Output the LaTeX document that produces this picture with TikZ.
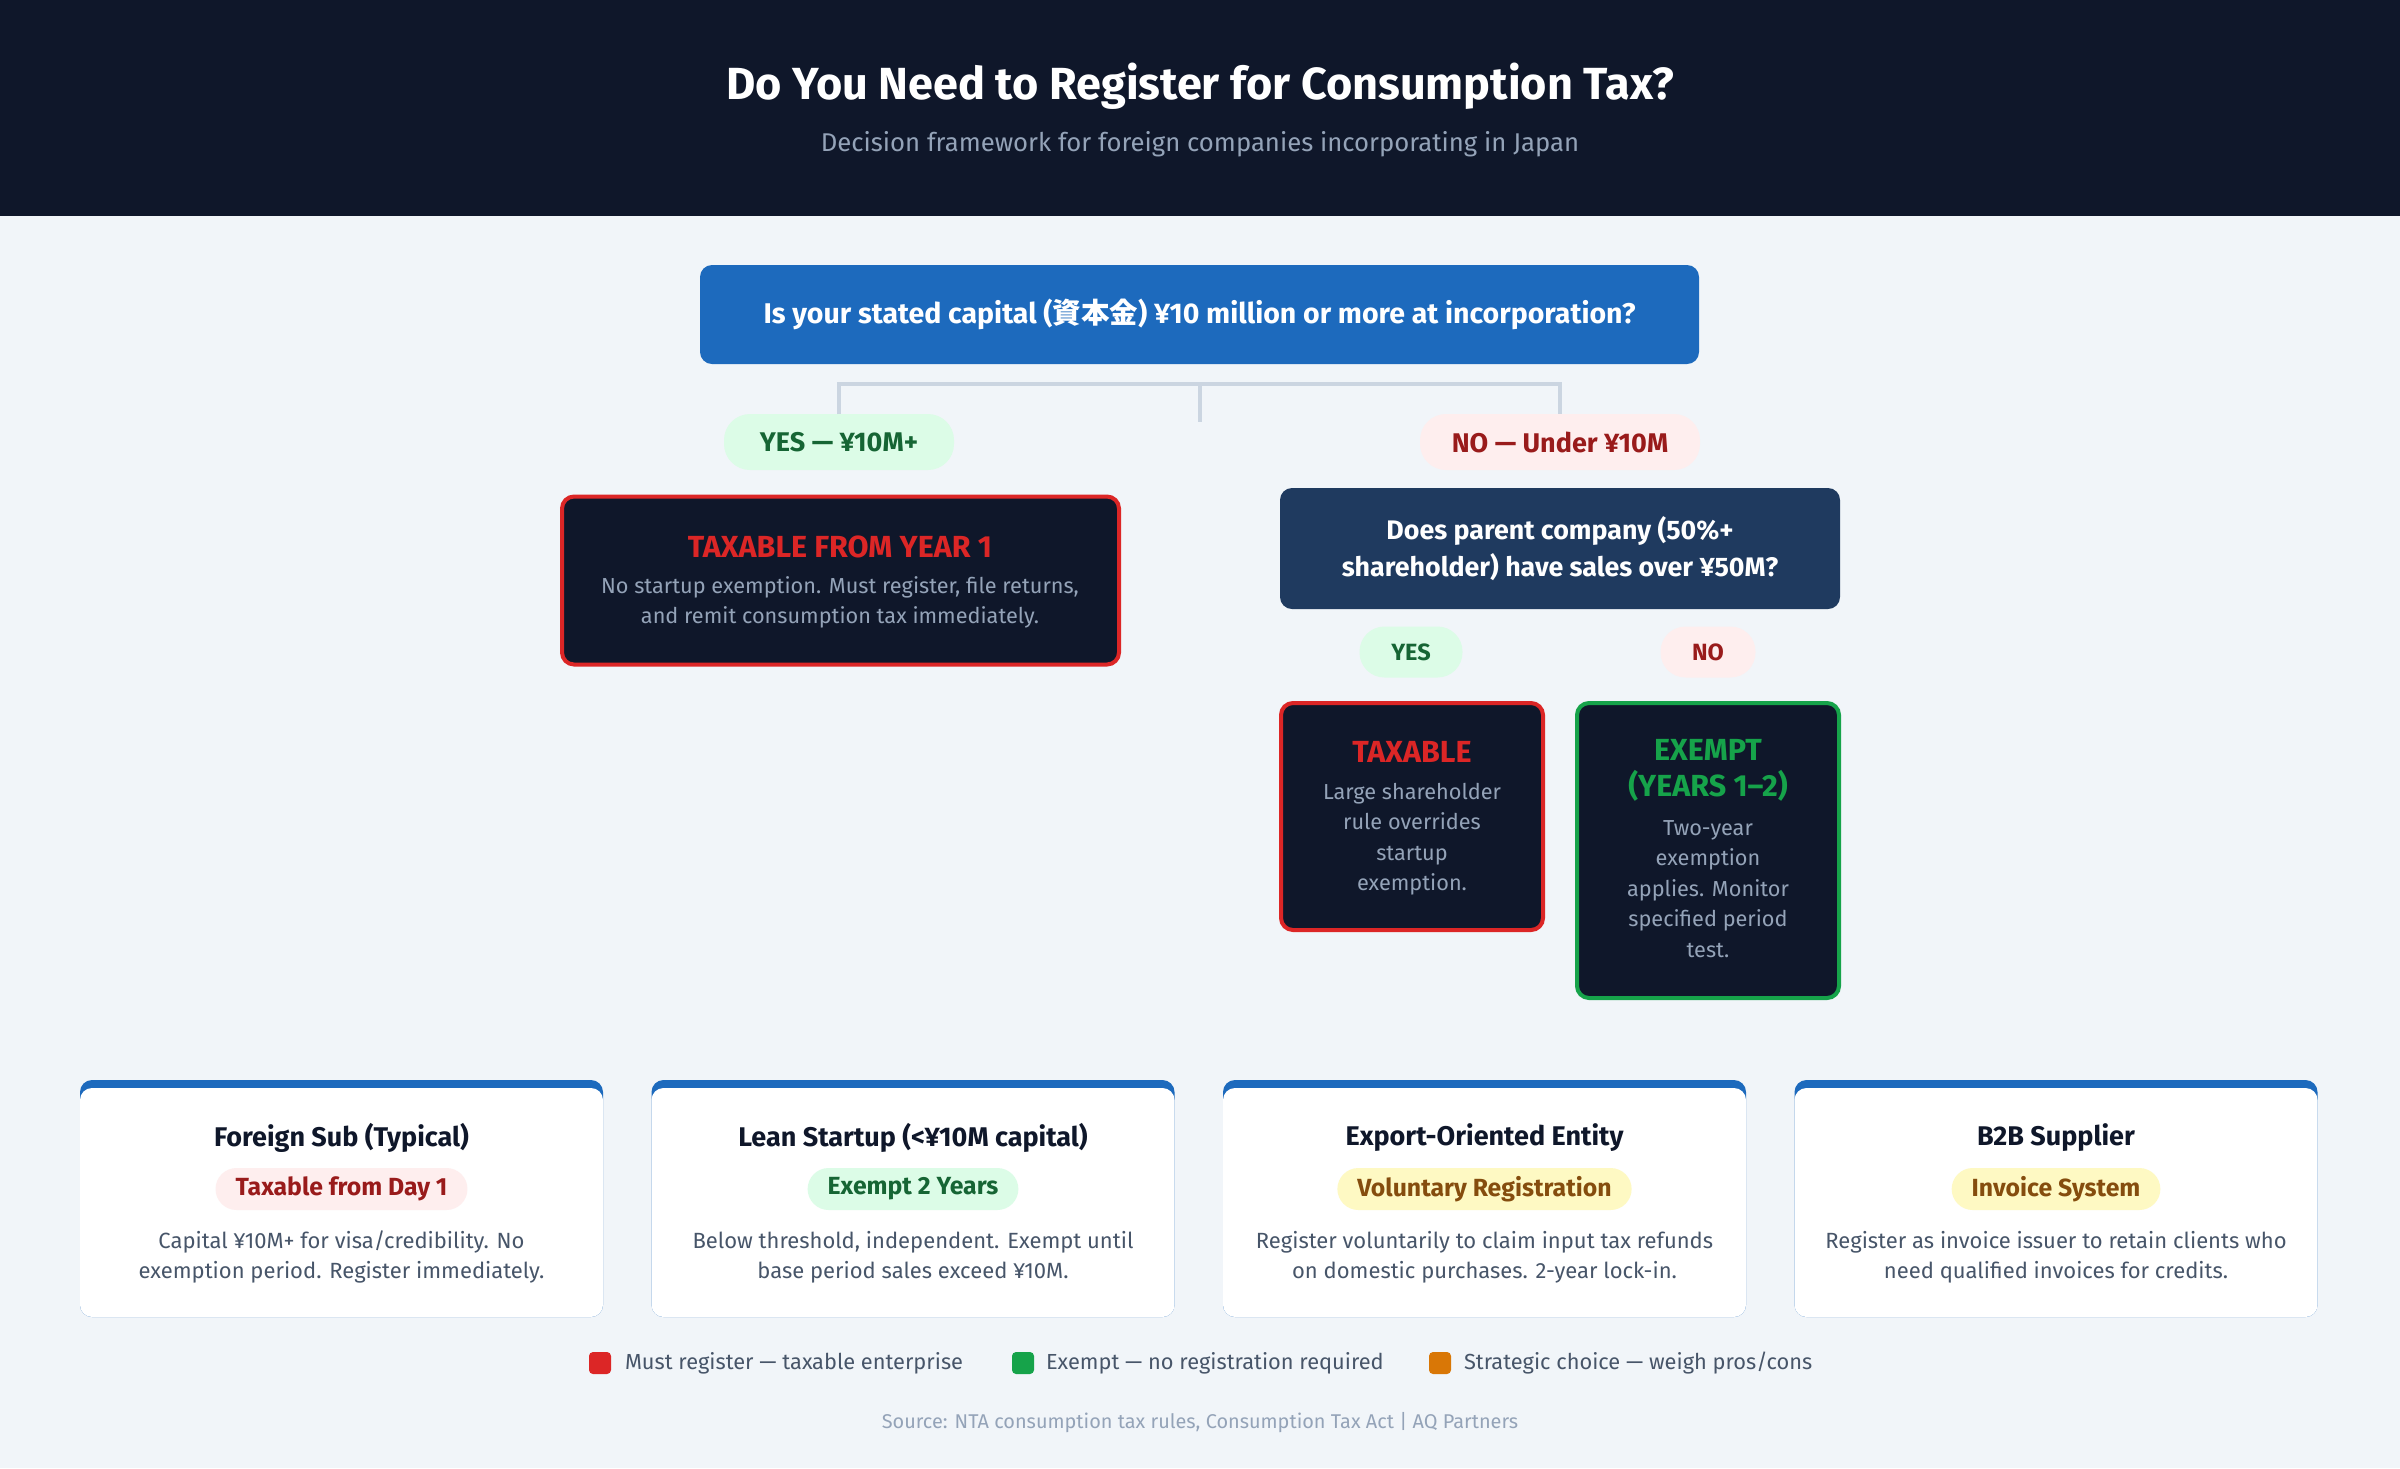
\documentclass[tikz,border=0pt]{standalone}
\usepackage{fontspec}
\setmainfont{Fira Sans}
\newfontfamily\cjk{Noto Sans CJK JP}
\definecolor{hdr}{RGB}{15,23,42}
\definecolor{bgc}{RGB}{241,245,249}
\definecolor{qblue}{RGB}{29,106,189}
\definecolor{navy}{RGB}{31,58,95}
\definecolor{tred}{RGB}{220,38,38}
\definecolor{tgreen}{RGB}{22,163,74}
\definecolor{slatefour}{RGB}{148,163,184}
\definecolor{slatesix}{RGB}{71,85,105}
\definecolor{gfill}{RGB}{220,252,231}
\definecolor{gtext}{RGB}{22,101,52}
\definecolor{rfill}{RGB}{254,238,238}
\definecolor{rtext}{RGB}{153,27,27}
\definecolor{yfill}{RGB}{254,249,195}
\definecolor{ytext}{RGB}{133,77,14}
\definecolor{orng}{RGB}{217,119,6}
\definecolor{linec}{RGB}{203,213,225}
\tikzset{
  base/.style={inner sep=0pt, outer sep=0pt},
  qbox/.style={base, rounded corners=12pt, text=white, align=center},
  pill/.style={base, inner xsep=20pt, rounded corners=26pt, font=\fontsize{27}{31}\selectfont\bfseries},
  spill/.style={base, rounded corners=25pt, font=\fontsize{23.5}{27}\selectfont\bfseries},
  outbox/.style={base, rounded corners=12pt, fill=hdr, line width=4pt},
  otitle/.style={base, align=center, font=\fontsize{30.5}{36}\selectfont\bfseries},
  obody/.style={base, align=center, text=slatefour, font=\fontsize{21.7}{30.5}\selectfont},
  conn/.style={draw=linec, line width=3.5pt},
  cardbg/.style={base, rounded corners=12pt, fill=qblue, minimum width=523pt, minimum height=237pt},
  cardfg/.style={base, rounded corners=12pt, fill=white, minimum width=523pt, minimum height=229pt},
  ctitle/.style={base, text=hdr, font=\fontsize{27}{31}\selectfont\bfseries},
  badge/.style={base, inner xsep=20pt, minimum height=42pt, rounded corners=21pt, font=\fontsize{24.8}{28}\selectfont\bfseries},
  cbody/.style={base, align=center, text=slatesix, font=\fontsize{22}{30}\selectfont},
  legsq/.style={base, rounded corners=4pt, minimum width=22pt, minimum height=22pt},
  legtxt/.style={base, anchor=west, text=slatesix, font=\fontsize{21.8}{26}\selectfont}
}
\begin{document}
\begin{tikzpicture}[x=1pt,y=-1pt]
\useasboundingbox (0,0) rectangle (2400,1468);
\fill[bgc] (0,0) rectangle (2400,1468);
\fill[hdr] (0,0) rectangle (2400,216);
\node[base,text=white,font=\fontsize{45}{52}\selectfont\bfseries] (title) at (1200,86) {Do You Need to Register for Consumption Tax?};
\node[base,text=slatefour,font=\fontsize{25.7}{30}\selectfont] (subtitle) at (1200,144) {Decision framework for foreign companies incorporating in Japan};

% question 1
\node[qbox, fill=qblue, minimum width=999pt, minimum height=99pt, font=\fontsize{28.5}{33}\selectfont\bfseries] (q1) at (1199.5,314.5) {Is your stated capital ({\cjk\bfseries 資本金}) ¥10 million or more at incorporation?};

% branch pills
\node[pill, fill=gfill, text=gtext, minimum width=230pt, minimum height=56pt] (yes1) at (839,442) {YES — ¥10M+};
\node[pill, fill=rfill, text=rtext, minimum width=280pt, minimum height=56pt] (no1) at (1560,442) {NO — Under ¥10M};

\coordinate (hub) at (1200,384);
\coordinate (stub) at (1200,422);
\draw[conn] (yes1.north) |- (hub) -| (no1.north);
\draw[conn] (hub) -- (stub);

% outcome: taxable from year 1
\node[outbox, draw=tred, minimum width=557pt, minimum height=168pt] (tax1) at (840.5,580.5) {};
\node[otitle, text=tred] (tax1t) at (840,547) {TAXABLE FROM YEAR 1};
\node[obody] (tax1b) at (840,602.5) {No startup exemption. Must register, file returns,\\and remit consumption tax immediately.};

% question 2
\node[qbox, fill=navy, minimum width=560pt, minimum height=121pt, font=\fontsize{26.8}{37}\selectfont\bfseries] (q2) at (1560,548.5) {Does parent company (50\%+\\shareholder) have sales over ¥50M?};

\node[spill, fill=gfill, text=gtext, minimum width=103pt, minimum height=51pt] (yes2) at (1411,652) {YES};
\node[spill, fill=rfill, text=rtext, minimum width=95pt, minimum height=51pt] (no2) at (1708,652) {NO};

% outcome: taxable
\node[outbox, draw=tred, minimum width=262pt, minimum height=227pt] (tax2) at (1412,816.5) {};
\node[otitle, text=tred] (tax2t) at (1412,752) {TAXABLE};
\node[obody] (tax2b) at (1412,839) {Large shareholder\\rule overrides\\startup\\exemption.};

% outcome: exempt
\node[outbox, draw=tgreen, minimum width=262pt, minimum height=295pt] (ex2) at (1708,850.5) {};
\node[otitle, text=tgreen] (ex2t) at (1708,770.5) {EXEMPT\\(YEARS 1–2)};
\node[obody] (ex2b) at (1708,889) {Two-year\\exemption\\applies. Monitor\\specified period\\test.};

% scenario cards
\foreach \i/\cx in {1/341.5,2/913,3/1484.5,4/2056}{
  \node[cardbg] (cb\i) at (\cx,1198.5) {};
  \node[cardfg] (cf\i) at (\cx,1202.5) {};
}
\node[ctitle] (t1) at (341.5,1138) {Foreign Sub (Typical)};
\node[badge, fill=rfill, text=rtext] (b1) at (341.5,1189) {Taxable from Day 1};
\node[cbody] (d1) at (341.5,1257) {Capital ¥10M+ for visa/credibility. No\\exemption period. Register immediately.};

\node[ctitle] (t2) at (913,1138) {Lean Startup (<¥10M capital)};
\node[badge, fill=gfill, text=gtext] (b2) at (913,1189) {Exempt 2 Years};
\node[cbody] (d2) at (913,1257) {Below threshold, independent. Exempt until\\base period sales exceed ¥10M.};

\node[ctitle] (t3) at (1484.5,1138) {Export-Oriented Entity};
\node[badge, fill=yfill, text=ytext] (b3) at (1484.5,1189) {Voluntary Registration};
\node[cbody] (d3) at (1484.5,1257) {Register voluntarily to claim input tax refunds\\on domestic purchases. 2-year lock-in.};

\node[ctitle] (t4) at (2056,1138) {B2B Supplier};
\node[badge, fill=yfill, text=ytext] (b4) at (2056,1189) {Invoice System};
\node[cbody] (d4) at (2056,1257) {Register as invoice issuer to retain clients who\\need qualified invoices for credits.};

% legend
\node[legsq, fill=tred] (lg1) at (600,1363) {};
\node[legtxt] (lt1) at (625,1363) {Must register — taxable enterprise};
\node[legsq, fill=tgreen] (lg2) at (1023,1363) {};
\node[legtxt] (lt2) at (1046,1363) {Exempt — no registration required};
\node[legsq, fill=orng] (lg3) at (1440,1363) {};
\node[legtxt] (lt3) at (1464,1363) {Strategic choice — weigh pros/cons};

\node[base, text=slatefour, font=\fontsize{19.9}{24}\selectfont] (src) at (1200,1423) {Source: NTA consumption tax rules, Consumption Tax Act | AQ Partners};
\end{tikzpicture}
\end{document}
